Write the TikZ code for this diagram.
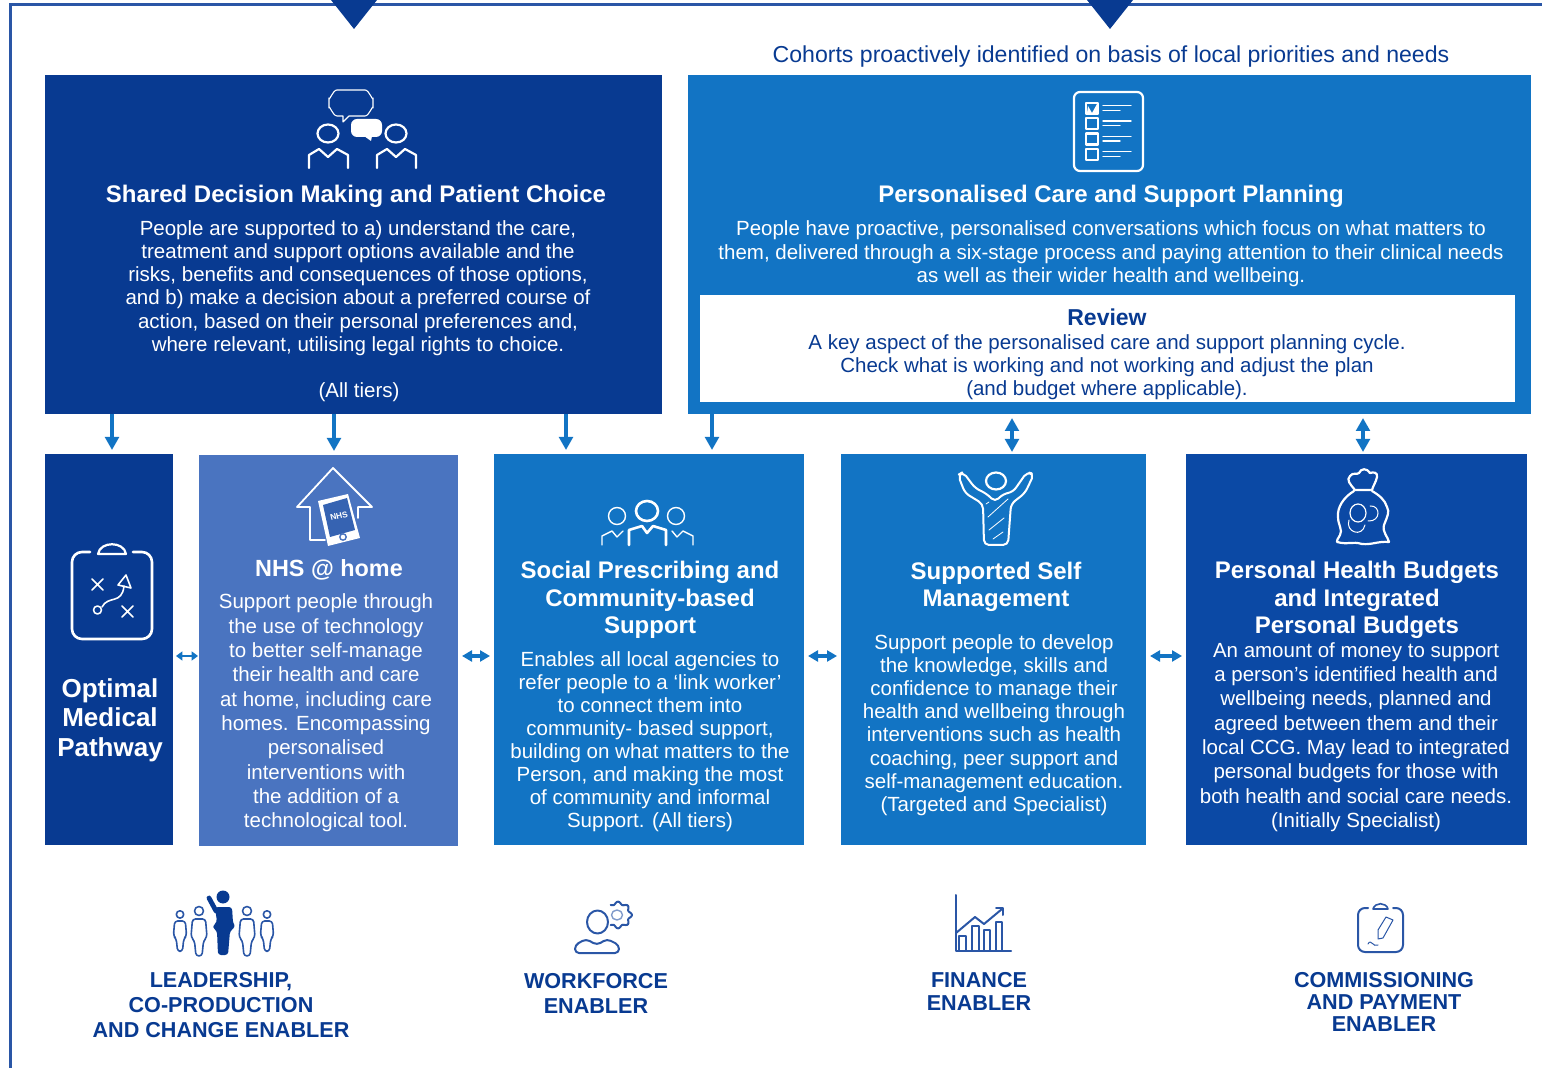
\documentclass[tikz,border=0pt]{standalone}
\usepackage{fontspec}
\setmainfont{Liberation Sans}
\usepackage{color}
\usetikzlibrary{arrows.meta}
\definecolor{navyblue}{HTML}{083A91}
\definecolor{midblue}{HTML}{1274C4}
\definecolor{softblue}{HTML}{4A74C0}
\definecolor{deepblue}{HTML}{0B49A5}
\definecolor{framblue}{HTML}{2A56A6}

\begin{document}
\begin{tikzpicture}[x=0.5pt, y=-0.5pt, >={Triangle[width=6.8pt,length=6.5pt]}]
        \tikzset{
           block/.style={
                        rectangle,
                        inner sep=0pt,
                        outer sep=0pt,
                        draw=none,
                        fill=#1
                       },
           body/.style={
                        inner sep=0pt,
                        align=center,
                        text=white,
                        font=\fontsize{10.25}{#1}\selectfont
                       },
           head/.style={
                        inner sep=0pt,
                        align=center,
                        text=white,
                        font=\fontsize{12}{13.7}\selectfont\bfseries
                       },
           enabler/.style={
                        inner sep=0pt,
                        align=center,
                        text=navyblue,
                        font=\fontsize{10.8}{#1}\selectfont\bfseries
                       },
           link/.style={midblue, line width=2.2pt, shorten >=2pt},
           both/.style={midblue, line width=2.2pt, <->, shorten >=1pt, shorten <=2pt},
           side/.style={midblue, line width=1.7pt, <->, >={Triangle[width=5.5pt,length=5pt]}, shorten >=2pt, shorten <=2pt},
           icon/.style={draw=white, line width=1.1pt, line join=round, line cap=round},
           thinicon/.style={draw=white, line width=0.55pt, line join=round, line cap=round},
           navyicon/.style={draw=framblue, line width=0.8pt, line join=round, line cap=round},
        };
        \useasboundingbox (0,0) rectangle (1542,1068);
        %----------------
        \draw[framblue, line width=1.5pt] (10,1068) -- (10,5) -- (1542,5);
        \fill[navyblue] (331,0) -- (377,0) -- (354,29) -- cycle;
        \fill[navyblue] (1087,0) -- (1133,0) -- (1110,29) -- cycle;
        \node[inner sep=0pt, text=navyblue, font=\fontsize{11.55}{13}\selectfont] (cohorts) at (1111,57) {Cohorts proactively identified on basis of local priorities and needs};
        %----------------
        \node[block=navyblue, minimum width=308.5pt, minimum height=169.5pt] (shared) at (353.5,244.5) {};
        \node[block=midblue, minimum width=421.5pt, minimum height=169.5pt] (personal) at (1109.5,244.5) {};
        \node[block=white, minimum width=407.5pt, minimum height=53.5pt] (review) at (1107.5,348.5) {};
        \node[block=navyblue, minimum width=64pt, minimum height=195.5pt] (optimal) at (109,649.5) {};
        \node[block=softblue, minimum width=129.5pt, minimum height=195.5pt] (nhs) at (328.5,650.5) {};
        \node[block=midblue, minimum width=155pt, minimum height=195.5pt] (social) at (649,649.5) {};
        \node[block=midblue, minimum width=152.5pt, minimum height=195.5pt] (self) at (993.5,649.5) {};
        \node[block=deepblue, minimum width=170.5pt, minimum height=195.5pt] (budgets) at (1356.5,649.5) {};
        %----------------
        \node[head] (sharedHead) at (356,196) {Shared Decision Making and Patient Choice};
        \node[body=11.65] (sharedText) at (358,288) {People are supported to a) understand the care,\\ treatment and support options available and the\\ risks, benefits and consequences of those options,\\ and b) make a decision about a preferred course of\\ action, based on their personal preferences and,\\ where relevant, utilising legal rights to choice.};
        \node[body=12] (sharedTiers) at (359,392) {(All tiers)};
        \node[head] (personalHead) at (1111,196) {Personalised Care and Support Planning};
        \node[body=11.65] (personalText) at (1111,254) {People have proactive, personalised conversations which focus on what matters to\\ them, delivered through a six-stage process and paying attention to their clinical needs\\ as well as their wider health and wellbeing.};
        \node[head, text=navyblue, font=\fontsize{11.5}{13}\selectfont\bfseries] (reviewHead) at (1107,317) {Review};
        \node[body=11.5, text=navyblue] (reviewText) at (1107,367) {A key aspect of the personalised care and support planning cycle.\\ Check what is working and not working and adjust the plan\\ (and budget where applicable).};
        \node[head, font=\fontsize{13}{14.8}\selectfont\bfseries] (optimalHead) at (110,720) {Optimal\\ Medical\\ Pathway};
        \node[head, font=\fontsize{11.7}{13}\selectfont\bfseries] (nhsHead) at (329,570) {NHS @ home};
        \node[body=12.15] (nhsText) at (326,713) {Support people through\\ the use of technology\\ to better self-manage\\ their health and care\\ at home, including care\\ homes. Encompassing\\ personalised\\ interventions with\\ the addition of a\\ technological tool.};
        \node[head] (socialHead) at (650,600) {Social Prescribing and\\ Community-based\\ Support};
        \node[body=11.5] (socialText) at (650,742) {Enables all local agencies to\\ refer people to a ‘link worker’\\ to connect them into\\ community- based support,\\ building on what matters to the\\ Person, and making the most\\ of community and informal\\ Support. (All tiers)};
        \node[head] (selfHead) at (996,587) {Supported Self\\ Management};
        \node[body=11.6] (selfText) at (994,725) {Support people to develop\\ the knowledge, skills and\\ confidence to manage their\\ health and wellbeing through\\ interventions such as health\\ coaching, peer support and\\ self-management education.\\ (Targeted and Specialist)};
        \node[head] (budgetsHead) at (1357,600) {Personal Health Budgets\\ and Integrated\\ Personal Budgets};
        \node[body=12.15] (budgetsText) at (1356,737) {An amount of money to support\\ a person’s identified health and\\ wellbeing needs, planned and\\ agreed between them and their\\ local CCG. May lead to integrated\\ personal budgets for those with\\ both health and social care needs.\\ (Initially Specialist)};
        %----------------
        \node[enabler=12.5] (leadership) at (221,1005) {LEADERSHIP,\\ CO-PRODUCTION\\ AND CHANGE ENABLER};
        \node[enabler=12.5] (workforce) at (596,993.5) {WORKFORCE\\ ENABLER};
        \node[enabler=11.5] (finance) at (979,991.5) {FINANCE\\ ENABLER};
        \node[enabler=11.2] (commissioning) at (1384,1002) {COMMISSIONING\\ AND PAYMENT\\ ENABLER};
        %----------------
        \path[->] ([xshift=33.5pt]shared.south west) edge[link] ([xshift=33.5pt]optimal.north west)
              ([xshift=144.5pt]shared.south west) edge[link] ([xshift=67.5pt]nhs.north west)
              ([xshift=260.5pt]shared.south west) edge[link] ([xshift=36pt]social.north west)
              ([xshift=12pt]personal.south west) edge[link] ([xshift=109pt]social.north west)
        ;
        \path ([xshift=162pt]personal.south west) edge[both] ([xshift=85.5pt]self.north west)
              ([xshift=337.5pt]personal.south west) edge[both] ([xshift=88.5pt]budgets.north west)
              ([yshift=-3.25pt]optimal.east) edge[side, line width=1.3pt, >={Triangle[width=4.5pt,length=3.2pt]}, shorten >=0.5pt, shorten <=1.5pt] ([yshift=-2.75pt]nhs.west)
              ([yshift=-2.75pt]nhs.east) edge[side] ([yshift=-3.25pt]social.west)
              ([yshift=-3.25pt]social.east) edge[side] ([yshift=-3.25pt]self.west)
              ([yshift=-3.25pt]self.east) edge[side] ([yshift=-3.25pt]budgets.west)
        ;
        %---------------- shared decision icon
        \draw[thinicon] (337,90) -- (365,90) to[out=0,in=-90] (373,98) -- (373,108) to[out=90,in=0] (365,116) -- (349,116) -- (343,122) -- (343,116) -- (337,116) to[out=180,in=90] (329,108) -- (329,98) to[out=-90,in=180] (337,90);
        \fill[white, rounded corners=3pt] (351,119) rectangle (382,137);
        \fill[white] (364,136) -- (371,141) -- (372,136) -- cycle;
        \foreach \px in {328,396} {
          \draw[icon] (\px,133.5) ellipse [x radius=10.5, y radius=9];
          \draw[icon] (\px-19,168) -- (\px-19,155) -- (\px-9,149) -- (\px,157) -- (\px+9,149) -- (\px+20,155) -- (\px+20,168);
        }
        %---------------- checklist icon
        \draw[icon, rounded corners=3pt] (1074,92) rectangle (1143,171);
        \foreach \py in {108.3,123.7,139,154.3} {
          \draw[icon] (1086,\py-5.5) rectangle (1098,\py+5.5);
          \draw[thinicon, line width=0.7pt] (1103,\py-2.5) -- (1131,\py-2.5) (1103,\py+2) -- (1120,\py+2);
        }
        \fill[white] (1088,106) -- (1092,113) -- (1097,104) -- (1097,113) -- (1087,113) -- cycle;
        %---------------- optimal pathway icon
        \draw[icon, line width=1.3pt, rounded corners=5pt] (90,552) -- (72,552) -- (72,639) -- (152,639) -- (152,552) -- (133,552);
        \draw[icon, fill=navyblue, line width=1.1pt] (98,554) .. controls (100,541) and (124,541) .. (126,554) -- cycle;
        \draw[thinicon, line width=0.8pt] (92,579) -- (103,590) (103,579) -- (92,590)
              (122,606) -- (133,617) (133,606) -- (122,617);
        \draw[thinicon, line width=0.8pt] (97.5,610) circle (4);
        \draw[thinicon, line width=0.8pt] (102,607) .. controls (108,595) and (122,605) .. (124,586);
        \draw[thinicon, line width=0.8pt] (118,585) -- (126,575) -- (131,588) -- cycle;
        %---------------- house and tablet icon
        \draw[icon, line width=0.9pt] (325,540) -- (310,540) -- (310,507) -- (297,507) -- (333,468) -- (372,507) -- (358,507) -- (358,518);
        \fill[white] (318,501) -- (348,494) -- (360,538) -- (328,546) -- cycle;
        \fill[softblue!70!navyblue] (323,505) -- (347,498) -- (355,530) -- (330,537) -- cycle;
        \node[rotate=14, inner sep=0pt, text=white, font=\fontsize{4.2}{5}\selectfont\bfseries] (tablet) at (339,516) {NHS};
        \draw[softblue, line width=0.7pt] (343,537) circle (3.2);
        %---------------- group icon
        \draw[icon, line width=1.3pt] (647,511) ellipse [x radius=11, y radius=10];
        \draw[thinicon, line width=0.7pt] (617,516) circle (8.5) (676,516) circle (8.5);
        \draw[icon, line width=1.3pt] (629,545) -- (629,530) -- (642,526) -- (647,533) -- (653,526) -- (666,530) -- (666,545);
        \draw[thinicon, line width=0.7pt] (602,545) -- (602,536) -- (612,531) -- (617,537) -- (623,531);
        \draw[thinicon, line width=0.7pt] (672,531) -- (677,537) -- (683,531) -- (693,536) -- (693,545);
        %---------------- self management icon
        \draw[icon] (996,481) ellipse [x radius=10, y radius=8.5];
        \draw[icon, line width=1pt, rounded corners=2.5pt] (958,475) -- (963,472) -- (975,488) -- (987,494) -- (995,502) -- (1003,494) -- (1013,492) -- (1027,472) -- (1034,474) -- (1025,493) -- (1011,504) -- (1008,545) -- (984,545) -- (983,504) -- (965,493) -- cycle;
        \draw[thinicon, line width=0.4pt] (988,517) -- (1008,499) (989,530) -- (1004,518) (993,539) -- (1003,532) (986,504) -- (989,502);
        %---------------- budget bag icon
        \draw[icon] (1355,490) .. controls (1350,484) and (1346,480) .. (1350,476) .. controls (1353,472) and (1357,475) .. (1359,473) .. controls (1361,468) and (1367,468) .. (1370,473) .. controls (1373,472) and (1378,472) .. (1377,477) .. controls (1376,482) and (1373,486) .. (1372,490) -- cycle;
        \draw[icon] (1354,491) .. controls (1344,497) and (1337,507) .. (1338,517) .. controls (1338,525) and (1343,530) .. (1340,535) .. controls (1338,539) and (1336,541) .. (1337,542) .. controls (1348,545) and (1352,541) .. (1362,544) .. controls (1372,545) and (1378,541) .. (1389,542) .. controls (1388,537) and (1382,532) .. (1384,525) .. controls (1387,517) and (1390,512) .. (1387,507) .. controls (1385,500) and (1379,495) .. (1372,491);
        \draw[thinicon, line width=0.6pt] (1358,513) ellipse [x radius=8, y radius=9];
        \draw[thinicon, line width=0.5pt] (1370,506) .. controls (1381,505) and (1381,522) .. (1368,521);
        \draw[thinicon, line width=0.5pt] (1349,520) .. controls (1345,532) and (1362,538) .. (1365,525);
        %---------------- leadership icon
        \fill[navyblue] (223,897) circle (6.5);
        \draw[navyblue, line width=2.4pt, line cap=round] (209,898) -- (216,911);
        \fill[navyblue, rounded corners=1.5pt] (215,907) -- (232,907) -- (233,923) -- (235.5,927) -- (230,931) -- (228,955) -- (218,955) -- (217,931) -- (212,927) -- (217,922) -- cycle;
        \foreach \px/\py/\ps in {180/921/0.82,199/919/1,247/919/1,267/921/0.82} {
          \begin{scope}[shift={(\px,\py)}, scale=\ps]
            \draw[navyicon] (0,-8) circle (4.5);
            \draw[navyicon, rounded corners=1.5pt] (-6.5,0) -- (6.5,0) -- (8,18) -- (4.5,22) -- (3,37) -- (-3,37) -- (-4.5,22) -- (-8,18) -- cycle;
          \end{scope}
        }
        %---------------- workforce icon
        \draw[navyicon, line width=1pt] (597.5,922) ellipse [x radius=10.5, y radius=11.5];
        \draw[navyicon, line width=1pt, rounded corners=2pt] (575,953) -- (575,945) -- (586,939) -- (597,945) -- (607,939) -- (619,945) -- (619,953) -- cycle;
        \draw[navyicon, line width=1pt] plot[smooth, domain=-125:125, samples=70] ({618+12.5*(1+0.11*cos(8*\x))*cos(\x)},{915+12*(1+0.11*cos(8*\x))*sin(\x)});
        \draw[navyicon, draw=framblue!60, line width=0.7pt] (617,915) ellipse [x radius=5.5, y radius=5];
        %---------------- finance icon
        \draw[navyicon, line width=1pt] (956,895) -- (956,951) -- (1011,951);
        \draw[navyicon] (959,951) -- (959,936) -- (966,936) -- (966,951)
              (972,951) -- (972,926) -- (979,926) -- (979,951)
              (984,951) -- (984,930) -- (990,930) -- (990,951)
              (996,951) -- (996,922) -- (1002,922) -- (1002,951);
        \draw[navyicon, line width=1pt] (956,933) -- (975,917) -- (984,924) -- (1002,909);
        \draw[navyicon, line width=1pt] (996,908) -- (1003,908) -- (1003,915);
        %---------------- commissioning icon
        \draw[navyicon, line width=1pt, rounded corners=3.5pt] (1368,908) -- (1358,908) -- (1358,952) -- (1403,952) -- (1403,908) -- (1393,908);
        \draw[navyicon, line width=0.8pt] (1373,909) .. controls (1375,902) and (1386,902) .. (1388,909) -- cycle;
        \draw[navyicon, line width=0.5pt] (1378,930) -- (1386,917) -- (1393,920) -- (1383,938) -- (1378,939) -- cycle;
        \draw[navyicon, line width=0.5pt] (1368,944) .. controls (1371,938) and (1373,948) .. (1378,945);
\end{tikzpicture}
\end{document}
